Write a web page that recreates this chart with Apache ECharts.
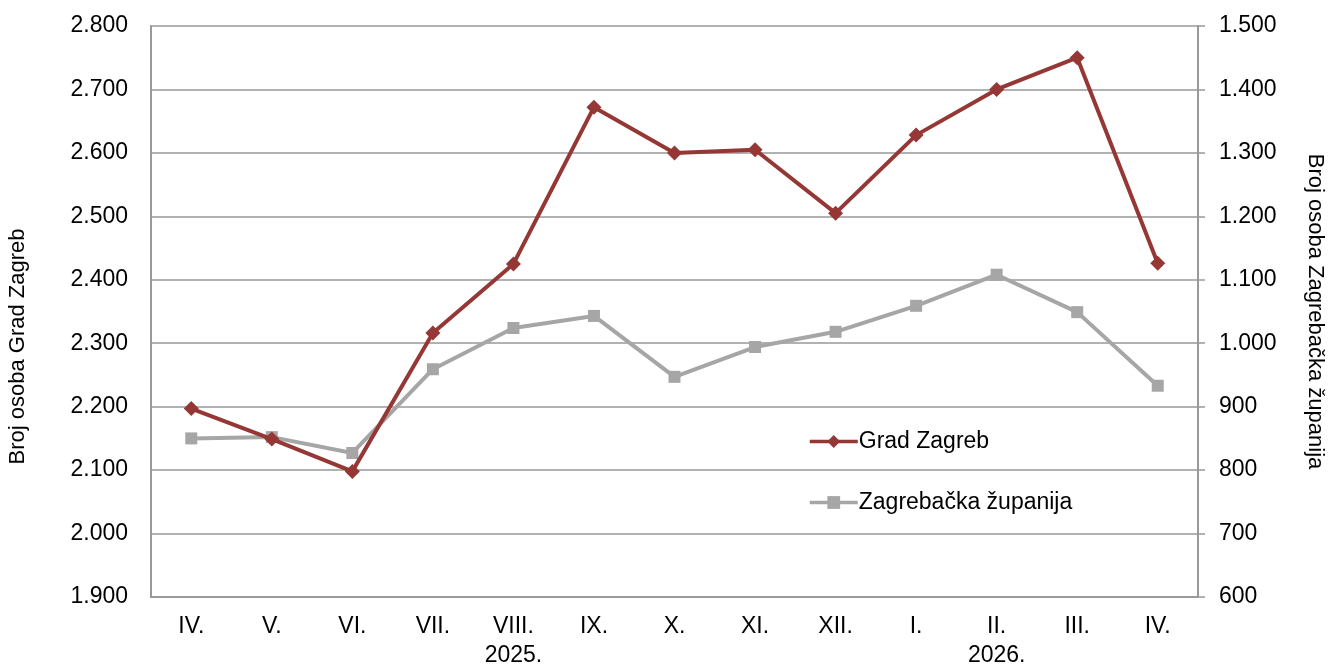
<!DOCTYPE html>
<html>
<head>
<meta charset="utf-8">
<script src="https://cdn.jsdelivr.net/npm/echarts@6/dist/echarts.min.js"></script>
<style>
  html, body { margin: 0; padding: 0; background: #fff; }
  #chart { width: 1341px; height: 666px; }
</style>
</head>
<body>
<div id="chart"></div>
<script>
// mjeseci, godina ispod VIII. i II.
const months = ['IV.', 'V.', 'VI.', 'VII.', 'VIII.', 'IX.', 'X.', 'XI.', 'XII.', 'I.', 'II.', 'III.', 'IV.'];
const years = ['', '', '', '', '2025.', '', '', '', '', '', '2026.', '', ''];
const gradZagreb = [2197, 2149, 2098, 2316, 2425, 2672, 2600, 2605, 2505, 2628, 2700, 2750, 2426];
const zagrebackaZupanija = [850, 852, 827, 959, 1024, 1043, 947, 994, 1018, 1059, 1108, 1049, 933];
const leftTicks = [1900, 2800, 100];
const rightTicks = [600, 1500, 100];

const categories = months.map((m, i) => years[i] ? m + '\n' + years[i] : m);

function fmt (v) {
  // hrvatski format s točkom za tisućice
  if (v >= 1000) {
    return Math.floor(v / 1000) + '.' + String(v % 1000).padStart(3, '0');
  }
  return String(v);
}

const font = 'Liberation Sans, Arial, sans-serif';
const chart = echarts.init(document.getElementById('chart'));
chart.setOption({
  animation: false,
  textStyle: { fontFamily: font },
  grid: { left: 151, right: 143, top: 26, bottom: 69, containLabel: false, outerBoundsMode: 'none' },
  legend: {
    orient: 'vertical',
    left: 803,
    top: 425,
    itemWidth: 48,
    itemHeight: 16,
    itemGap: 38,
    lineStyle: { width: 3.5 },
    textStyle: { fontSize: 23, color: '#000', fontFamily: font, padding: [0, 0, 0, -4] },
    data: ['Grad Zagreb', 'Zagrebačka županija']
  },
  xAxis: {
    type: 'category',
    data: categories,
    boundaryGap: true,
    axisLine: { lineStyle: { color: '#999', width: 2 } },
    axisTick: { show: false },
    axisLabel: { color: '#000', fontSize: 23, margin: 15, lineHeight: 29, interval: 0 }
  },
  yAxis: [{
    type: 'value',
    min: leftTicks[0],
    max: leftTicks[1],
    interval: leftTicks[2],
    name: 'Broj osoba Grad Zagreb',
    nameLocation: 'middle',
    nameGap: 122,
    nameRotate: 90,
    nameTextStyle: { color: '#000', fontSize: 22, padding: [0, 70, 0, 0] },
    axisLine: { show: true, lineStyle: { color: '#999', width: 2 } },
    axisTick: { show: false },
    splitLine: { lineStyle: { color: '#999', width: 1.5 } },
    axisLabel: { color: '#000', fontSize: 23, margin: 23, formatter: fmt }
  }, {
    type: 'value',
    position: 'right',
    min: rightTicks[0],
    max: rightTicks[1],
    interval: rightTicks[2],
    name: 'Broj osoba Zagrebačka županija',
    nameLocation: 'middle',
    nameGap: 106,
    nameRotate: -90,
    nameTextStyle: { color: '#000', fontSize: 22 },
    axisLine: { show: true, lineStyle: { color: '#999', width: 2 } },
    axisTick: { show: true, length: 7, lineStyle: { color: '#999', width: 1.5 } },
    splitLine: { show: false },
    axisLabel: { color: '#000', fontSize: 23, margin: 21, formatter: fmt }
  }],
  series: [{
    name: 'Grad Zagreb',
    type: 'line',
    yAxisIndex: 0,
    data: gradZagreb,
    symbol: 'diamond',
    symbolSize: 15,
    z: 3,
    lineStyle: { color: '#953735', width: 4 },
    itemStyle: { color: '#953735' }
  }, {
    name: 'Zagrebačka županija',
    type: 'line',
    yAxisIndex: 1,
    data: zagrebackaZupanija,
    symbol: 'rect',
    symbolSize: 12,
    z: 2,
    lineStyle: { color: '#A6A6A6', width: 4 },
    itemStyle: { color: '#A6A6A6' }
  }]
});
</script>
</body>
</html>
